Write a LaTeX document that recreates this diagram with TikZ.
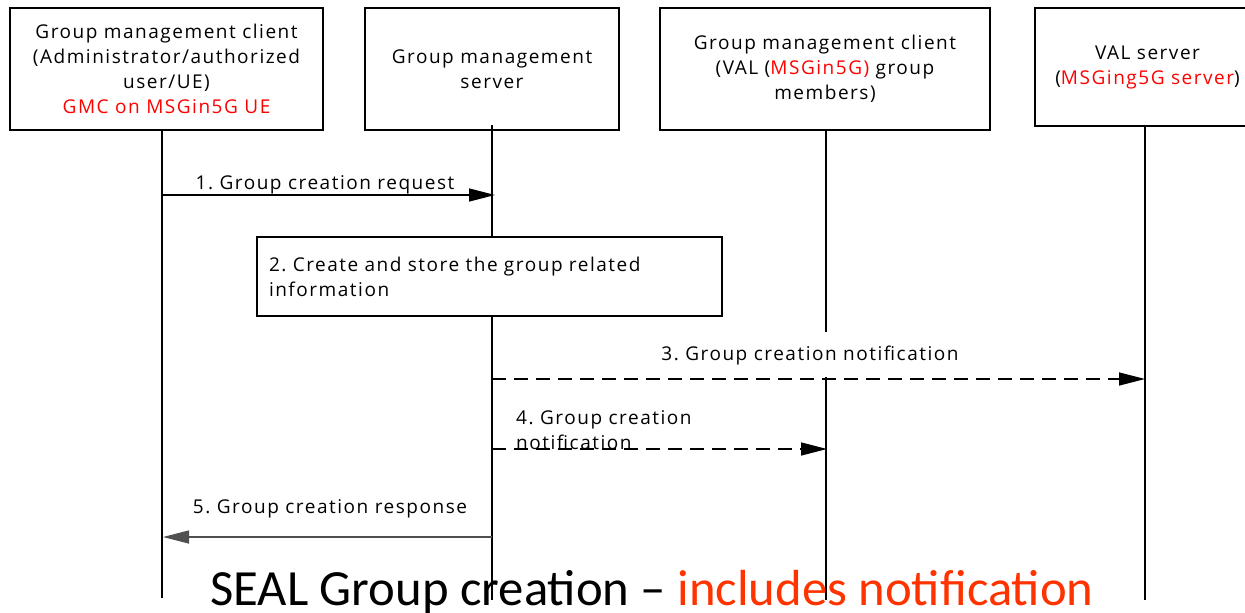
\documentclass[tikz,border=0pt]{standalone}
\usepackage{fontspec}
\setmainfont{Open Sans}[LetterSpace=8]
\newfontfamily\titlefont{Carlito}
\usetikzlibrary{arrows.meta}
\definecolor{hlred}{HTML}{FF0000}
\definecolor{titlered}{HTML}{FF3300}
\definecolor{respgray}{HTML}{505050}
\tikzset{
  actor/.style={draw=black, line width=1.6pt, rectangle, align=center, inner sep=0pt,
    font=\fontsize{19}{25}\selectfont},
  lifeline/.style={line width=1.6pt},
  msg/.style={line width=1.4pt, -{Triangle[length=26pt,width=13pt]}},
  dmsg/.style={msg, dash pattern=on 14pt off 8pt},
  lbl/.style={inner sep=0pt, font=\fontsize{19}{25}\selectfont},
}
\frenchspacing
\begin{document}
\begin{tikzpicture}[x=1pt,y=-1pt]
\useasboundingbox (0,0) rectangle (1245,613);
% actors
\node[actor, minimum width=313pt, minimum height=122pt] (gmc) at (166.5,69)
  {Group management client\\(Administrator/authorized\\user/UE)\\\textcolor{hlred}{GMC on MSGin5G UE}};
\node[actor, minimum width=254pt, minimum height=122pt] (gms) at (492,69)
  {Group management\\server};
\node[actor, minimum width=330pt, minimum height=122pt] (gmm) at (825,69)
  {Group management client\\(VAL (\textcolor{hlred}{MSGin5G)} group\\members)};
\node[actor, minimum width=225pt, minimum height=118pt] (val) at (1147.5,67)
  {VAL server\\(\textcolor{hlred}{MSGing5G server})};
% step 2 box
\node[actor, minimum width=465pt, minimum height=79pt, align=left, text width=441pt] (step) at (489.5,276.5)
  {2. Create and store the group related\\information};
% lifeline coordinates
\coordinate (l1t) at (162,130); \coordinate (l1b) at (162,598);
\coordinate (l2t) at (492,125); \coordinate (l2b) at (492,600);
\coordinate (l2m) at (492,237); \coordinate (l2n) at (492,316);
\coordinate (l3t) at (826,130); \coordinate (l3m) at (826,332);
\coordinate (l3n) at (826,377); \coordinate (l3b) at (826,600);
\coordinate (l4t) at (1145,126); \coordinate (l4b) at (1145,600);
\draw[lifeline] (l1t) -- (l1b);
\draw[lifeline] (l2t) -- (l2m);
\draw[lifeline] (l2n) -- (l2b);
\draw[lifeline] (l3t) -- (l3m);
\draw[lifeline] (l3n) -- (l3b);
\draw[lifeline] (l4t) -- (l4b);
% message coordinates
\coordinate (m1s) at (162,195); \coordinate (m1e) at (495,195);
\coordinate (m3s) at (492,379); \coordinate (m3e) at (1145,379);
\coordinate (m4s) at (492,449); \coordinate (m4e) at (827,449);
\coordinate (m5s) at (492,537); \coordinate (m5e) at (163,537);
\draw[msg] (m1s) -- (m1e);
\draw[dmsg] (m3s) -- (m3e);
\draw[dmsg] (m4s) -- (m4e);
\draw[msg, draw=respgray, -{Triangle[length=26pt,width=13pt,fill=respgray]}] (m5s) -- (m5e);
% labels
\node[lbl, anchor=base] (t1) at (325,189) {1. Group creation request};
\node[lbl, anchor=base] (t3) at (810,360) {3. Group creation notification};
\node[lbl, anchor=base west, align=left] (t4) at (516,449) {4. Group creation\\notification};
\node[lbl, anchor=base] (t5) at (330,513) {5. Group creation response};
% title
\node[inner sep=0pt, anchor=base, font=\titlefont\fontsize{50.7}{60}\selectfont] (title) at (652,605)
  {SEAL Group creation – \textcolor{titlered}{includes notification}};
\end{tikzpicture}
\end{document}
